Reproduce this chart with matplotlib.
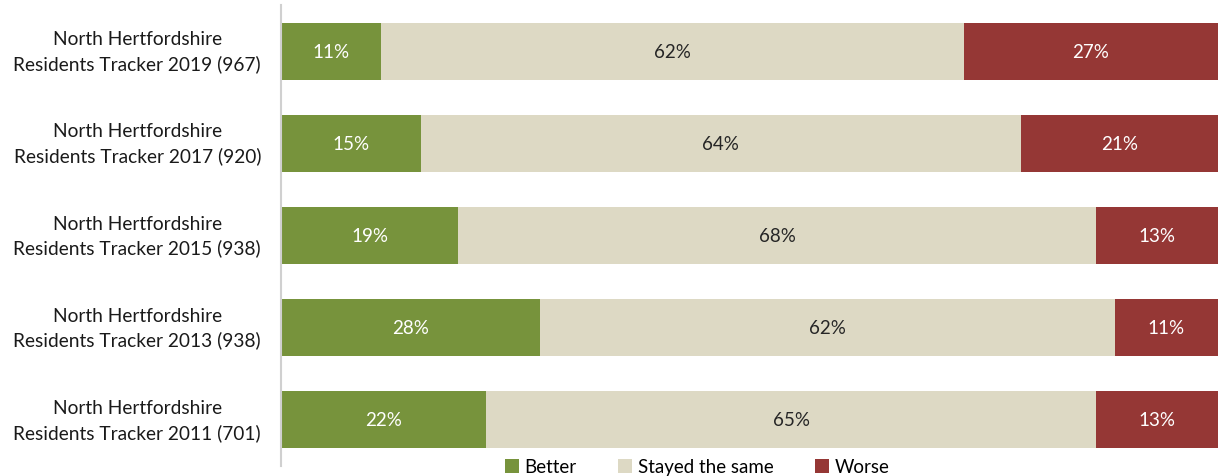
import matplotlib
matplotlib.use('Agg')
import matplotlib.pyplot as plt

plt.rcParams['font.family'] = ['Lato', 'DejaVu Sans']

surveys = ['North Hertfordshire\nResidents Tracker 2019 (967)',
           'North Hertfordshire\nResidents Tracker 2017 (920)',
           'North Hertfordshire\nResidents Tracker 2015 (938)',
           'North Hertfordshire\nResidents Tracker 2013 (938)',
           'North Hertfordshire\nResidents Tracker 2011 (701)']

# bar lengths
better = [10.7, 14.9, 18.9, 27.6, 21.9]
same = [62.2, 64.1, 68.1, 61.4, 65.1]
worse = [27.1, 21.0, 13.0, 11.0, 13.0]

# printed labels
better_lbl = ['11%', '15%', '19%', '28%', '22%']
same_lbl = ['62%', '64%', '68%', '62%', '65%']
worse_lbl = ['27%', '21%', '13%', '11%', '13%']

series = [('Better', better, better_lbl, '#77933C', 'white'),
          ('Stayed the same', same, same_lbl, '#DDD9C4', '#262626'),
          ('Worse', worse, worse_lbl, '#953735', 'white')]

fig = plt.figure(figsize=(12.21, 4.77), dpi=100)
ax = fig.add_axes([281 / 1221, 10 / 477, 937 / 1221, 461 / 477])

ypos = list(range(len(surveys)))
left = [0] * len(surveys)
for name, vals, lbls, col, tcol in series:
    ax.barh(ypos, vals, left=left, height=0.62, color=col, label=name)
    for y, v, l, lb in zip(ypos, vals, left, lbls):
        ax.text(l + v / 2, y, lb, ha='center', va='center', color=tcol, fontsize=13.5)
    left = [a + b for a, b in zip(left, vals)]

ax.set_xlim(0, 100)
ax.set_ylim(4.5, -0.5)
ax.set_yticks(ypos)
ax.set_yticklabels(surveys, fontsize=13.8, color='#1a1a1a', ha='center', va='center',
                   linespacing=1.45)
ax.tick_params(axis='y', length=0, pad=103.5)
ax.set_xticks([])
for s in ['top', 'right', 'bottom']:
    ax.spines[s].set_visible(False)
ax.spines['left'].set_color('#d0d0d0')
ax.spines['left'].set_linewidth(1.5)

fig.legend(*ax.get_legend_handles_labels(), loc='center', bbox_to_anchor=(0.571, 9 / 477),
           ncol=3, frameon=False, fontsize=13.5, handlelength=0.75, handleheight=0.75,
           handletextpad=0.3, columnspacing=2.2, borderaxespad=0, borderpad=0)

fig.savefig('out.png', dpi=100)
